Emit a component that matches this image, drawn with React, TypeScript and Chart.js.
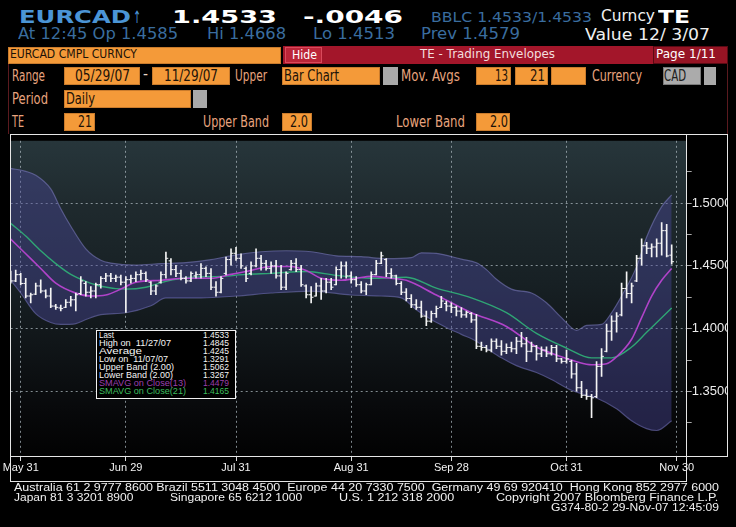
import React, { useEffect, useRef } from 'react';
import { Chart, registerables } from 'chart.js';
Chart.register(...registerables);

// ---------- DATA ----------
const dateTickIdx = [2, 23, 45, 68, 88, 111, 133];
const dateLabels = ['May 31', 'Jun 29', 'Jul 31', 'Aug 31', 'Sep 28', 'Oct 31', 'Nov 30'];
const yTickValues = [1.325, 1.35, 1.375, 1.4, 1.425, 1.45, 1.475, 1.5, 1.525];
const yLabelValues = [1.35, 1.4, 1.45, 1.5];

const opens = [
  1.4440, 1.4380, 1.4430, 1.4360, 1.4260, 1.4275, 1.4340, 1.4300, 1.4260, 1.4180,
  1.4165, 1.4170, 1.4210, 1.4230, 1.4280, 1.4360, 1.4290, 1.4300, 1.4350, 1.4400,
  1.4420, 1.4400, 1.4410, 1.4370, 1.4390, 1.4400, 1.4430, 1.4440, 1.4370, 1.4300,
  1.4370, 1.4430, 1.4540, 1.4470, 1.4440, 1.4400, 1.4380, 1.4420, 1.4430, 1.4480,
  1.4440, 1.4330, 1.4290, 1.4440, 1.4550, 1.4600, 1.4560, 1.4480, 1.4440, 1.4500,
  1.4560, 1.4520, 1.4480, 1.4500, 1.4420, 1.4330, 1.4470, 1.4520, 1.4470, 1.4340,
  1.4270, 1.4260, 1.4340, 1.4300, 1.4370, 1.4350, 1.4470, 1.4500, 1.4420, 1.4390,
  1.4350, 1.4300, 1.4350, 1.4430, 1.4520, 1.4550, 1.4440, 1.4420, 1.4360, 1.4290,
  1.4240, 1.4190, 1.4170, 1.4100, 1.4060, 1.4120, 1.4170, 1.4200, 1.4180, 1.4170,
  1.4140, 1.4110, 1.4120, 1.4070, 1.3860, 1.3850, 1.3830, 1.3900, 1.3860, 1.3820,
  1.3850, 1.3840, 1.3900, 1.3880, 1.3820, 1.3860, 1.3800, 1.3830, 1.3800, 1.3850,
  1.3760, 1.3740, 1.3740, 1.3640, 1.3530, 1.3470, 1.3460, 1.3460, 1.3700, 1.3820,
  1.3980, 1.4060, 1.4110, 1.4320, 1.4280, 1.4380, 1.4560, 1.4660, 1.4640, 1.4650,
  1.4680, 1.4780, 1.4585,
];
const highs = [
  1.4458, 1.4466, 1.4440, 1.4401, 1.4284, 1.4362, 1.4388, 1.4310, 1.4323, 1.4193,
  1.4187, 1.4232, 1.4258, 1.4284, 1.4414, 1.4375, 1.4336, 1.4362, 1.4414, 1.4440,
  1.4440, 1.4427, 1.4427, 1.4414, 1.4427, 1.4453, 1.4466, 1.4453, 1.4375, 1.4349,
  1.4453, 1.4609, 1.4557, 1.4505, 1.4466, 1.4414, 1.4453, 1.4453, 1.4518, 1.4492,
  1.4479, 1.4375, 1.4414, 1.4570, 1.4635, 1.4648, 1.4596, 1.4492, 1.4531, 1.4635,
  1.4583, 1.4544, 1.4531, 1.4544, 1.4505, 1.4453, 1.4544, 1.4557, 1.4505, 1.4349,
  1.4336, 1.4362, 1.4401, 1.4401, 1.4401, 1.4492, 1.4531, 1.4531, 1.4453, 1.4414,
  1.4375, 1.4362, 1.4453, 1.4544, 1.4609, 1.4557, 1.4479, 1.4427, 1.4375, 1.4320,
  1.4271, 1.4232, 1.4219, 1.4141, 1.4141, 1.4180, 1.4258, 1.4219, 1.4206, 1.4180,
  1.4167, 1.4141, 1.4128, 1.4115, 1.3893, 1.3867, 1.3919, 1.3919, 1.3906, 1.3880,
  1.3893, 1.3932, 1.3971, 1.3932, 1.3893, 1.3867, 1.3855, 1.3855, 1.3868, 1.3868,
  1.3764, 1.3829, 1.3751, 1.3725, 1.3581, 1.3516, 1.3477, 1.3738, 1.3842, 1.4036,
  1.4102, 1.4128, 1.4362, 1.4453, 1.4362, 1.4584, 1.4714, 1.4688, 1.4675, 1.4714,
  1.4845, 1.4830, 1.4668,
];
const lows = [
  1.4362, 1.4375, 1.4349, 1.4245, 1.4206, 1.4271, 1.4284, 1.4245, 1.4167, 1.4154,
  1.4141, 1.4167, 1.4180, 1.4141, 1.4271, 1.4258, 1.4245, 1.4245, 1.4323, 1.4375,
  1.4375, 1.4375, 1.4349, 1.4130, 1.4362, 1.4375, 1.4388, 1.4375, 1.4271, 1.4271,
  1.4362, 1.4401, 1.4427, 1.4414, 1.4388, 1.4362, 1.4375, 1.4401, 1.4401, 1.4414,
  1.4310, 1.4258, 1.4284, 1.4427, 1.4505, 1.4544, 1.4479, 1.4375, 1.4427, 1.4492,
  1.4466, 1.4466, 1.4440, 1.4401, 1.4310, 1.4310, 1.4466, 1.4453, 1.4336, 1.4245,
  1.4206, 1.4258, 1.4232, 1.4284, 1.4310, 1.4349, 1.4401, 1.4401, 1.4362, 1.4336,
  1.4284, 1.4271, 1.4349, 1.4427, 1.4518, 1.4414, 1.4401, 1.4349, 1.4271, 1.4220,
  1.4167, 1.4154, 1.4089, 1.4024, 1.4050, 1.4089, 1.4167, 1.4141, 1.4128, 1.4102,
  1.4089, 1.4089, 1.4050, 1.3841, 1.3828, 1.3815, 1.3815, 1.3841, 1.3789, 1.3802,
  1.3815, 1.3802, 1.3854, 1.3737, 1.3815, 1.3750, 1.3777, 1.3777, 1.3790, 1.3738,
  1.3725, 1.3725, 1.3607, 1.3503, 1.3451, 1.3438, 1.3291, 1.3451, 1.3620, 1.3816,
  1.3907, 1.3972, 1.4102, 1.4245, 1.4206, 1.4375, 1.4506, 1.4597, 1.4571, 1.4571,
  1.4584, 1.4571, 1.4513,
];
const closes = [
  1.4380, 1.4430, 1.4360, 1.4260, 1.4270, 1.4340, 1.4300, 1.4260, 1.4180, 1.4170,
  1.4160, 1.4210, 1.4230, 1.4270, 1.4380, 1.4290, 1.4300, 1.4350, 1.4400, 1.4420,
  1.4400, 1.4410, 1.4370, 1.4390, 1.4400, 1.4430, 1.4440, 1.4390, 1.4300, 1.4340,
  1.4430, 1.4560, 1.4470, 1.4440, 1.4400, 1.4380, 1.4440, 1.4430, 1.4480, 1.4440,
  1.4330, 1.4290, 1.4400, 1.4550, 1.4600, 1.4560, 1.4500, 1.4400, 1.4500, 1.4560,
  1.4520, 1.4480, 1.4500, 1.4420, 1.4330, 1.4440, 1.4520, 1.4470, 1.4350, 1.4270,
  1.4250, 1.4340, 1.4300, 1.4370, 1.4330, 1.4470, 1.4500, 1.4420, 1.4390, 1.4350,
  1.4300, 1.4350, 1.4430, 1.4520, 1.4580, 1.4440, 1.4420, 1.4360, 1.4290, 1.4240,
  1.4190, 1.4170, 1.4100, 1.4060, 1.4120, 1.4160, 1.4220, 1.4180, 1.4170, 1.4140,
  1.4110, 1.4130, 1.4070, 1.3860, 1.3850, 1.3830, 1.3900, 1.3860, 1.3820, 1.3850,
  1.3840, 1.3900, 1.3880, 1.3820, 1.3860, 1.3800, 1.3830, 1.3800, 1.3850, 1.3760,
  1.3740, 1.3760, 1.3640, 1.3530, 1.3470, 1.3460, 1.3450, 1.3700, 1.3780, 1.3980,
  1.4060, 1.4100, 1.4320, 1.4280, 1.4340, 1.4560, 1.4660, 1.4640, 1.4650, 1.4680,
  1.4780, 1.4579, 1.4533,
];

const upperIdx = [0, 3, 5, 8, 10, 12, 15, 18, 20, 25, 30, 35, 40, 45, 50, 55, 60, 65, 70, 75, 80, 82, 85, 90, 93, 95, 97, 100, 104, 107, 110, 113, 115, 118, 120, 122, 125, 127, 130, 132];
const upperVal = [1.5276, 1.5252, 1.5221, 1.5112, 1.4955, 1.4815, 1.4635, 1.4544, 1.4522, 1.4506, 1.4518, 1.4526, 1.4549, 1.4588, 1.4612, 1.4620, 1.4612, 1.4580, 1.4573, 1.4557, 1.4565, 1.4604, 1.4600, 1.4553, 1.4525, 1.4470, 1.4393, 1.4315, 1.4284, 1.4206, 1.4088, 1.3987, 1.4026, 1.4034, 1.4127, 1.4260, 1.4494, 1.4729, 1.4971, 1.5065];

const lowerIdx = [0, 2, 5, 8, 10, 13, 15, 18, 23, 28, 31, 35, 38, 45, 52, 60, 68, 74, 78, 81, 84, 87, 90, 93, 95, 98, 101, 105, 108, 112, 115, 117, 121, 124, 127, 129, 132];
const lowerVal = [1.4385, 1.4284, 1.4120, 1.4049, 1.4034, 1.4041, 1.4073, 1.4112, 1.4127, 1.4182, 1.4245, 1.4245, 1.4245, 1.4260, 1.4284, 1.4299, 1.4268, 1.4260, 1.4245, 1.4151, 1.4073, 1.4010, 1.3955, 1.3900, 1.3846, 1.3768, 1.3706, 1.3651, 1.3596, 1.3510, 1.3471, 1.3448, 1.3362, 1.3268, 1.3205, 1.3190, 1.3267];

const ma13Idx = [0, 3, 6, 9, 13, 16, 19, 22, 25, 30, 35, 40, 44, 47, 52, 56, 59, 62, 66, 69, 72, 76, 79, 85, 92, 99, 105, 110, 113, 116, 119, 121, 124, 126, 128, 130, 132];
const ma13Val = [1.4713, 1.4596, 1.4479, 1.4362, 1.4283, 1.4260, 1.4268, 1.4315, 1.4370, 1.4385, 1.4401, 1.4401, 1.4432, 1.4455, 1.4495, 1.4495, 1.4463, 1.4401, 1.4385, 1.4401, 1.4416, 1.4401, 1.4385, 1.4268, 1.4127, 1.4018, 1.3854, 1.3776, 1.3737, 1.3713, 1.3721, 1.3776, 1.3916, 1.4088, 1.4260, 1.4385, 1.4479];

const ma21Idx = [0, 3, 6, 9, 12, 15, 18, 23, 27, 31, 36, 42, 47, 52, 59, 65, 72, 79, 85, 92, 99, 105, 111, 116, 120, 124, 127, 130, 132];
const ma21Val = [1.4838, 1.4737, 1.4620, 1.4518, 1.4432, 1.4377, 1.4338, 1.4315, 1.4330, 1.4377, 1.4409, 1.4416, 1.4432, 1.4440, 1.4455, 1.4424, 1.4401, 1.4409, 1.4323, 1.4245, 1.4127, 1.3963, 1.3846, 1.3768, 1.3768, 1.3854, 1.3971, 1.4088, 1.4165];

const legendRows = [
  { label: 'Last', value: '1.4533', color: '#f4f4f4' },
  { label: 'High on  11/27/07', value: '1.4845', color: '#f4f4f4' },
  { label: 'Average', value: '1.4245', color: '#f4f4f4' },
  { label: 'Low on  11/07/07', value: '1.3291', color: '#f4f4f4' },
  { label: 'Upper Band (2.00)', value: '1.5062', color: '#f4f4f4' },
  { label: 'Lower Band (2.00)', value: '1.3267', color: '#f4f4f4' },
  { label: 'SMAVG on Close(13)', value: '1.4479', color: '#9c3fae' },
  { label: 'SMAVG on Close(21)', value: '1.4165', color: '#3cbc5c' },
];
const legendLabelW = [15, 72, 43, 69, 75, 74, 87, 87];

// ---------- helpers ----------
let mctx: CanvasRenderingContext2D | null = null;
function measure(text: string, font: string) {
  if (!mctx) mctx = document.createElement('canvas').getContext('2d');
  mctx!.font = font;
  return mctx!.measureText(text).width;
}

function T({ t, x, y, w, s, c, b, f, right }: { t: string; x: number; y: number; w?: number; s: number; c: string; b?: boolean; f?: string; right?: boolean }) {
  const fam = f || 'Liberation Sans';
  const font = `${b ? 'bold ' : ''}${s}px "${fam}"`;
  const m = measure(t, font);
  const sc = w ? w / m : 1;
  const width = w || m;
  const left = right ? x - width : x;
  return (
    <span
      style={{
        position: 'absolute', left, top: y - 0.846 * s, fontFamily: `"${fam}"`, fontSize: s, fontWeight: b ? 'bold' : 'normal',
        lineHeight: `${s}px`, color: c, whiteSpace: 'pre', transform: `scaleX(${sc})`, transformOrigin: '0 0',
      }}
    >
      {t}
    </span>
  );
}

function R({ x, y, w, h, bg, bd }: { x: number; y: number; w: number; h: number; bg: string; bd?: string }) {
  return <div style={{ position: 'absolute', left: x, top: y, width: w, height: h, background: bg, boxSizing: 'border-box', border: bd ? `1px solid ${bd}` : undefined }} />;
}

const ORANGE = '#f49a39';
const ORB = '#c97b2c';
const LBL = '#e8a47e';
const DARK = '#1c1208';
const BLUE1 = '#4b95d6';
const BLUE2 = '#3a6d9f';
const DV = 'DejaVu Sans';
const WHITE_LINE = '#e6e6e6';

export default function App() {
  const ref = useRef<HTMLCanvasElement>(null);

  useEffect(() => {
    const gridC = 'rgba(170,182,188,0.75)';
    const bgPlugin = {
      id: 'bgGrad',
      beforeDraw(chart: any) {
        const { ctx, chartArea } = chart;
        const { left, top, right, bottom } = chartArea;
        const g = ctx.createLinearGradient(0, top, 0, bottom);
        g.addColorStop(0, '#27363b');
        g.addColorStop(0.2, '#1f2a2e');
        g.addColorStop(0.45, '#172024');
        g.addColorStop(0.65, '#101518');
        g.addColorStop(0.85, '#08090b');
        g.addColorStop(1, '#020202');
        ctx.save();
        ctx.fillStyle = g;
        ctx.fillRect(left, top, right - left, bottom - top);
        ctx.restore();
      },
    };

    const idx = highs.map((_, i) => i);
    const chart = new Chart(ref.current!, {
      type: 'bar',
      data: {
        datasets: [
          {
            type: 'bar',
            label: 'HL',
            data: idx.map((i) => ({ x: i, y: [lows[i], highs[i]] })) as any,
            backgroundColor: '#f4f4f4',
            borderWidth: 0,
            barThickness: 1,
            grouped: false,
            order: 0,
          } as any,
          {
            type: 'line',
            label: 'Open',
            data: idx.map((i) => ({ x: i - 0.25, y: opens[i] })),
            showLine: false,
            pointStyle: 'line',
            pointRadius: 1.1,
            pointHoverRadius: 0,
            pointBorderColor: '#f4f4f4',
            pointBorderWidth: 1,
            order: 0,
          } as any,
          {
            type: 'line',
            label: 'Close',
            data: idx.map((i) => ({ x: i + 0.25, y: closes[i] })),
            showLine: false,
            pointStyle: 'line',
            pointRadius: 1.1,
            pointHoverRadius: 0,
            pointBorderColor: '#f4f4f4',
            pointBorderWidth: 1,
            order: 0,
          } as any,
          {
            type: 'line',
            label: 'SMAVG 13',
            data: ma13Idx.map((x, k) => ({ x, y: ma13Val[k] })),
            borderColor: '#b043c9',
            borderWidth: 1.6,
            pointRadius: 0,
            cubicInterpolationMode: 'monotone',
            fill: false,
            order: 1,
          } as any,
          {
            type: 'line',
            label: 'SMAVG 21',
            data: ma21Idx.map((x, k) => ({ x, y: ma21Val[k] })),
            borderColor: '#2fa574',
            borderWidth: 1.4,
            pointRadius: 0,
            cubicInterpolationMode: 'monotone',
            fill: false,
            order: 1,
          } as any,
          {
            type: 'line',
            label: 'Upper',
            data: upperIdx.map((x, k) => ({ x, y: upperVal[k] })),
            borderColor: 'rgba(120,120,185,0.6)',
            borderWidth: 1.2,
            pointRadius: 0,
            cubicInterpolationMode: 'monotone',
            fill: '+1',
            backgroundColor: 'rgba(76,74,158,0.42)',
            order: 2,
          } as any,
          {
            type: 'line',
            label: 'Lower',
            data: lowerIdx.map((x, k) => ({ x, y: lowerVal[k] })),
            borderColor: 'rgba(120,120,185,0.6)',
            borderWidth: 1.2,
            pointRadius: 0,
            cubicInterpolationMode: 'monotone',
            fill: false,
            order: 2,
          } as any,
        ],
      },
      options: {
        responsive: false,
        animation: false,
        devicePixelRatio: 1,
        layout: { padding: { left: 10.7, right: 0, top: 2, bottom: 2 } },
        plugins: { legend: { display: false }, tooltip: { enabled: false } },
        events: [],
        scales: {
          x: {
            type: 'linear',
            min: 0,
            max: 135,
            offset: false,
            afterBuildTicks: (s: any) => {
              s.ticks = dateTickIdx.map((v) => ({ value: v }));
            },
            afterFit: (s: any) => {
              s.height = 25;
            },
            ticks: {
              autoSkip: false,
              maxRotation: 0,
              minRotation: 0,
              padding: 0,
              color: '#f2f2f2',
              font: { family: 'Liberation Sans', size: 11 },
              callback: (_v: any, i: number) => dateLabels[i],
            },
            grid: {
              offset: false,
              color: gridC,
              lineWidth: 1,
              drawTicks: true,
              tickLength: 5,
              tickColor: '#dcdcdc',
              tickBorderDash: [],
            },
            border: { display: false, dash: [2, 3] },
          },
          y: {
            type: 'linear',
            position: 'right',
            min: 1.2987,
            max: 1.5495,
            beginAtZero: false,
            afterBuildTicks: (s: any) => {
              s.ticks = yTickValues.map((v) => ({ value: v }));
            },
            afterFit: (s: any) => {
              s.width = 41.3;
            },
            ticks: {
              padding: 0,
              color: '#ececec',
              font: { family: 'Liberation Sans', size: 13 },
              callback: (v: any) => (yLabelValues.includes(v) ? Number(v).toFixed(4) : ''),
            },
            grid: {
              color: (c: any) => (c.tick && yLabelValues.includes(c.tick.value) ? gridC : 'rgba(0,0,0,0)'),
              lineWidth: 1,
              drawTicks: true,
              tickLength: 5,
              tickColor: '#a8a8a8',
              tickBorderDash: [],
            },
            border: { display: false, dash: [2, 3] },
          },
        },
      } as any,
      plugins: [bgPlugin],
    });
    return () => chart.destroy();
  }, []);

  return (
    <div style={{ position: 'absolute', left: 0, top: 0, width: 736, height: 527, background: '#000', overflow: 'hidden' }}>
      {/* header line 1 */}
      <T t="EURCAD" x={19} y={23} w={112} s={17} c={BLUE1} b f={DV} />
      <T t="↑" x={133} y={23} w={8} s={17} c={BLUE1} f={DV} />
      <T t="1.4533" x={172} y={23} w={105} s={17} c="#ffffff" b f={DV} />
      <T t="-.0046" x={303} y={23} w={100} s={17} c="#ffffff" b f={DV} />
      <T t="BBLC 1.4533/1.4533" x={431} y={22} w={161} s={14} c={BLUE2} f={DV} />
      <T t="Curncy" x={601} y={22} w={54} s={15} c="#f2f2f2" f={DV} />
      <T t="TE" x={658} y={23} w={32} s={17} c="#ffffff" b f={DV} />
      {/* header line 2 */}
      <T t="At 12:45 Op 1.4585" x={18} y={40} w={160} s={16} c={BLUE2} f={DV} />
      <T t="Hi 1.4668" x={207} y={40} w={79} s={16} c={BLUE2} f={DV} />
      <T t="Lo 1.4513" x={313} y={40} w={82} s={16} c={BLUE2} f={DV} />
      <T t="Prev 1.4579" x={421} y={40} w={99} s={16} c={BLUE2} f={DV} />
      <T t="Value 12/ 3/07" x={585} y={41} w={125} s={16} c="#f0f0f0" f={DV} />

      {/* row 3 */}
      <R x={8} y={47} w={273} h={17} bg={ORANGE} bd={ORB} />
      <T t="EURCAD CMPL CURNCY" x={10} y={58.5} w={127} s={12} c={DARK} f={DV} />
      <R x={283} y={46} w={370} h={18} bg="#a3162a" />
      <R x={285} y={47} w={37} h={16} bg="#bb2538" bd="#d94a5c" />
      <T t="Hide" x={292} y={59} w={25} s={13} c="#ffffff" f={DV} />
      <T t="TE - Trading Envelopes" x={420} y={58} w={135} s={13} c="#f3dede" f={DV} />
      <R x={653} y={46} w={75} h={18} bg="#961424" bd="#5a0a14" />
      <T t="Page 1/11" x={656} y={58} w={60} s={13} c="#ffffff" f={DV} />

      {/* panel frame */}
      <R x={8} y={64} w={1} h={70} bg="#5b1a1f" />
      <R x={727} y={64} w={1} h={70} bg="#5b1a1f" />

      {/* row 4 */}
      <T t="Range" x={12} y={82} w={33} s={15} c={LBL} f={DV} />
      <R x={64} y={67} w={76} h={18} bg={ORANGE} bd={ORB} />
      <T t="05/29/07" x={75} y={81.5} w={55} s={15} c={DARK} f={DV} />
      <T t="-" x={143} y={80} w={5} s={15} c="#e8d8c8" f={DV} />
      <R x={152} y={67} w={78} h={18} bg={ORANGE} bd={ORB} />
      <T t="11/29/07" x={164} y={81.5} w={54} s={15} c={DARK} f={DV} />
      <T t="Upper" x={235} y={82} w={32} s={15} c={LBL} f={DV} />
      <R x={282} y={67} w={98} h={18} bg={ORANGE} bd={ORB} />
      <R x={380} y={67} w={3} h={18} bg="#000" />
      <R x={383} y={67} w={15} h={18} bg="#a9a9a9" />
      <T t="Bar Chart" x={284} y={81.5} w={55} s={15} c={DARK} f={DV} />
      <T t="Mov. Avgs" x={401} y={82} w={59} s={15} c={LBL} f={DV} />
      <R x={476} y={67} w={35} h={18} bg={ORANGE} bd={ORB} />
      <T t="13" x={495} y={81.5} w={13} s={15} c={DARK} f={DV} />
      <R x={515} y={67} w={33} h={18} bg={ORANGE} bd={ORB} />
      <T t="21" x={530} y={81.5} w={15} s={15} c={DARK} f={DV} />
      <R x={551} y={67} w={35} h={18} bg={ORANGE} bd={ORB} />
      <T t="Currency" x={592} y={82} w={50} s={15} c={LBL} f={DV} />
      <R x={663} y={67} w={38} h={18} bg="#ababab" bd="#7a7a7a" />
      <R x={701} y={67} w={3} h={18} bg="#000" />
      <R x={704} y={67} w={12} h={18} bg="#a9a9a9" />
      <T t="CAD" x={664} y={81.5} w={22} s={15} c="#202020" f={DV} />

      {/* row 5 */}
      <T t="Period" x={12} y={105} w={36} s={15} c={LBL} f={DV} />
      <R x={64} y={90} w={127} h={18} bg={ORANGE} bd={ORB} />
      <R x={191} y={90} w={2} h={18} bg="#000" />
      <R x={193} y={90} w={14} h={18} bg="#a9a9a9" />
      <T t="Daily" x={66} y={104.5} w={29} s={15} c={DARK} f={DV} />

      {/* row 6 */}
      <T t="TE" x={12} y={128} w={12} s={15} c={LBL} f={DV} />
      <R x={64} y={113} w={31} h={18} bg={ORANGE} bd={ORB} />
      <T t="21" x={78} y={127.5} w={14} s={15} c={DARK} f={DV} />
      <T t="Upper Band" x={203} y={128} w={66} s={15} c={LBL} f={DV} />
      <R x={282} y={113} w={30} h={18} bg={ORANGE} bd={ORB} />
      <T t="2.0" x={290} y={127.5} w={18} s={15} c={DARK} f={DV} />
      <T t="Lower Band" x={396} y={128} w={69} s={15} c={LBL} f={DV} />
      <R x={476} y={113} w={34} h={18} bg={ORANGE} bd={ORB} />
      <T t="2.0" x={490} y={127.5} w={18} s={15} c={DARK} f={DV} />

      {/* chart */}
      <canvas ref={ref} width={728} height={350} style={{ position: 'absolute', left: 0, top: 133, width: 728, height: 350 }} />

      {/* chart frame */}
      <R x={10} y={134} w={718} h={1} bg={WHITE_LINE} />
      <R x={10} y={134} w={1} h={348} bg={WHITE_LINE} />
      <R x={686} y={134} w={1} h={348} bg={WHITE_LINE} />
      <R x={727} y={134} w={1} h={323} bg={WHITE_LINE} />
      <R x={10} y={456} w={718} h={1} bg={WHITE_LINE} />
      <R x={10} y={481} w={677} h={1} bg={WHITE_LINE} />

      {/* legend box */}
      <div style={{ position: 'absolute', left: 96, top: 330, width: 140, height: 69, background: '#000', border: '1px solid #f0f0f0', boxSizing: 'border-box' }} />
      {legendRows.map((r, k) => (
        <React.Fragment key={k}>
          <T t={r.label} x={99} y={338.4 + 8 * k} w={legendLabelW[k]} s={9} c={r.color} />
          <T t={r.value} x={229.3} y={338.4 + 8 * k} w={26} s={9} c={r.color} right />
        </React.Fragment>
      ))}

      {/* footer */}
      <T t="Australia 61 2 9777 8600 Brazil 5511 3048 4500  Europe 44 20 7330 7500  Germany 49 69 920410  Hong Kong 852 2977 6000" x={14.2} y={491.5} w={705} s={10} c="#f0f0f0" />
      <T t="Japan 81 3 3201 8900" x={14.2} y={501.5} w={119.3} s={10} c="#f0f0f0" />
      <T t="Singapore 65 6212 1000" x={169.8} y={501.5} w={132.2} s={10} c="#f0f0f0" />
      <T t="U.S. 1 212 318 2000" x={338.7} y={501.5} w={115.2} s={10} c="#f0f0f0" />
      <T t="Copyright 2007 Bloomberg Finance L.P." x={496.3} y={501.5} w={222.2} s={10} c="#f0f0f0" />
      <T t="G374-80-2 29-Nov-07 12:45:09" x={550.6} y={511.5} w={168} s={10} c="#f0f0f0" />
    </div>
  );
}
